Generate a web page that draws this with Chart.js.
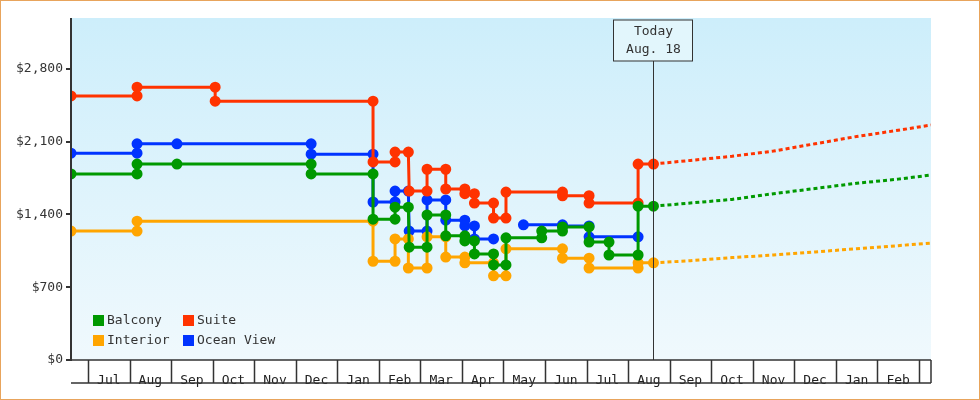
<!DOCTYPE html>
<html>
<head>
<meta charset="utf-8">
<script src="https://cdn.jsdelivr.net/npm/chart.js@4.4.0/dist/chart.umd.min.js"></script>
<style>
  html, body { margin: 0; padding: 0; background: #fff; }
  .wrap { width: 980px; height: 400px; box-sizing: border-box; border: 1px solid #e8a45c; position: relative; }
</style>
</head>
<body>
<div class="wrap"><canvas id="chart"></canvas></div>
<script>
"use strict";

///////////////////////////////////////
// Data (x = months since Jul 1, y = price in $)

const monthLabels = ["Jul", "Aug", "Sep", "Oct", "Nov", "Dec", "Jan", "Feb", "Mar", "Apr",
  "May", "Jun", "Jul", "Aug", "Sep", "Oct", "Nov", "Dec", "Jan", "Feb"];
const yTicks = [0, 700, 1400, 2100, 2800];
const todayX = 13.61;
const todayLabel = ["Today", "Aug. 18"];

const balcony = [[-0.41,1790],[1.18,1790],[1.18,1885],[2.14,1885],[5.37,1885],[5.37,1790],[6.86,1790],[6.86,1355],[7.39,1355],[7.39,1470],[7.71,1470],[7.73,1085],[8.16,1085],[8.16,1395],[8.61,1395],[8.61,1195],[9.07,1195],[9.07,1145],[9.30,1145],[9.30,1020],[9.76,1020],[9.76,915],[10.06,915],[10.06,1175],[10.92,1175],[10.92,1240],[11.42,1240],[11.42,1280],[12.06,1280],[12.06,1135],[12.54,1135],[12.54,1010],[13.24,1010],[13.24,1480],[13.61,1480]];
const suite = [[-0.41,2540],[1.18,2540],[1.18,2625],[3.06,2625],[3.06,2490],[6.86,2490],[6.86,1905],[7.39,1905],[7.39,2000],[7.71,2000],[7.73,1625],[8.16,1625],[8.16,1835],[8.61,1835],[8.61,1645],[9.07,1645],[9.07,1600],[9.30,1600],[9.30,1510],[9.76,1510],[9.76,1365],[10.06,1365],[10.06,1615],[11.42,1615],[11.42,1580],[12.06,1580],[12.06,1510],[13.24,1510],[13.24,1885],[13.61,1885]];
const interior = [[-0.41,1240],[1.18,1240],[1.18,1335],[6.86,1335],[6.86,950],[7.39,950],[7.39,1165],[7.71,1165],[7.71,885],[8.16,885],[8.16,1185],[8.61,1185],[8.61,990],[9.07,990],[9.07,935],[9.76,935],[9.76,810],[10.06,810],[10.06,1070],[11.42,1070],[11.42,980],[12.06,980],[12.06,885],[13.24,885],[13.24,935],[13.61,935]];
const oceanView = [[-0.41,1990],[1.18,1990],[1.18,2080],[2.14,2080],[5.37,2080],[5.37,1980],[6.86,1980],[6.86,1520],[7.39,1520],[7.39,1625],[7.71,1625],[7.73,1240],[8.16,1240],[8.16,1540],[8.61,1540],[8.61,1345],[9.07,1345],[9.07,1290],[9.30,1290],[9.30,1165],[9.76,1165],[9.9,null],[10.48,1300],[11.42,1300],[11.42,1290],[12.06,1290],[12.06,1185],[13.24,1185]];

const suiteForecast = [[13.61,1885],[14.5,1920],[15.5,1960],[16.5,2010],[17.5,2080],[18.5,2150],[19.5,2210],[20.29,2260]];
const balconyForecast = [[13.61,1480],[14.5,1510],[15.5,1545],[16.5,1600],[17.5,1650],[18.5,1700],[19.5,1740],[20.29,1780]];
const interiorForecast = [[13.61,935],[14.5,955],[15.5,985],[16.5,1010],[17.5,1040],[18.5,1070],[19.5,1100],[20.29,1125]];

const colors = { balcony: "#009900", suite: "#ff3300", interior: "#ffa500", ocean: "#0033ff" };
const FONT = "'DejaVu Sans Mono', monospace";

const toPts = arr => arr.map(p => ({ x: p[0], y: p[1] }));

const series = function (label, arr, color) {
  return { label, data: toPts(arr), borderColor: color, backgroundColor: color,
    borderWidth: 3, pointRadius: 4, pointHoverRadius: 4, spanGaps: false };
};
const forecast = function (arr, color) {
  return { label: "", data: toPts(arr), borderColor: color, borderWidth: 3,
    borderDash: [4, 3], pointRadius: 0, forecast: true };
};

///////////////////////////////////////
// Plugins

const decor = {
  id: "decor",
  beforeDraw(chart) {
    const { ctx, chartArea: a } = chart;
    const g = ctx.createLinearGradient(0, a.top, 0, a.bottom);
    g.addColorStop(0, "#cdeefb");
    g.addColorStop(1, "#f0f9fd");
    ctx.fillStyle = g;
    ctx.fillRect(a.left, a.top, a.right - a.left, a.bottom - a.top);
  },
  afterDraw(chart) {
    const { ctx, chartArea: a, scales } = chart;
    const x = scales.x;
    ctx.save();
    // month boxes
    ctx.strokeStyle = "#333";
    ctx.lineWidth = 1.5;
    const bottom = a.bottom + 23;
    ctx.beginPath();
    ctx.moveTo(a.left, bottom); ctx.lineTo(a.right, bottom);
    ctx.moveTo(a.left, a.bottom); ctx.lineTo(a.right, a.bottom);
    for (let m = 0; m <= monthLabels.length; m++) {
      const px = Math.round(x.getPixelForValue(m)) + 0.5;
      if (px > a.right) break;
      ctx.moveTo(px, a.bottom); ctx.lineTo(px, bottom);
    }
    ctx.moveTo(a.right, a.bottom); ctx.lineTo(a.right, bottom);
    ctx.stroke();
    // y axis line
    ctx.lineWidth = 2;
    ctx.beginPath();
    ctx.moveTo(a.left, a.top); ctx.lineTo(a.left, a.bottom + 1);
    ctx.stroke();

    // today marker
    const tx = Math.round(x.getPixelForValue(todayX)) + 0.5;
    ctx.strokeStyle = "#333";
    ctx.lineWidth = 1;
    ctx.beginPath();
    ctx.moveTo(tx, a.top + 43); ctx.lineTo(tx, a.bottom);
    ctx.stroke();
    ctx.fillStyle = "#e2f6fc";
    ctx.fillRect(tx - 40, a.top + 2, 79, 41);
    ctx.strokeRect(tx - 40, a.top + 2, 79, 41);
    ctx.fillStyle = "#333";
    ctx.font = "13px " + FONT;
    ctx.textAlign = "center";
    ctx.textBaseline = "middle";
    ctx.fillText(todayLabel[0], tx, a.top + 14);
    ctx.fillText(todayLabel[1], tx, a.top + 32);

    // legend
    const items = chart.data.datasets.filter(d => !d.forecast);
    ctx.textAlign = "left";
    items.forEach((d, i) => {
      const col = i % 2, row = Math.floor(i / 2);
      const lx = a.left + 22 + col * 90, ly = a.top + 302 + row * 20;
      ctx.fillStyle = d.borderColor;
      ctx.fillRect(lx, ly - 5, 11, 11);
      ctx.fillStyle = "#333";
      ctx.fillText(d.label, lx + 14, ly + 1);
    });
    ctx.restore();
  },
};

///////////////////////////////////////
// Chart

const config = {
  type: "line",
  data: {
    datasets: [
      series("Balcony", balcony, colors.balcony),
      series("Suite", suite, colors.suite),
      series("Interior", interior, colors.interior),
      series("Ocean View", oceanView, colors.ocean),
      forecast(suiteForecast, colors.suite),
      forecast(balconyForecast, colors.balcony),
      forecast(interiorForecast, colors.interior),
    ],
  },
  options: {
    responsive: true,
    maintainAspectRatio: false,
    animation: false,
    layout: { padding: { top: 17, right: 48, left: 0, bottom: 0 } },
    plugins: { legend: { display: false }, tooltip: { enabled: false } },
    scales: {
      x: {
        type: "linear",
        min: -0.41,
        max: 20.29,
        afterBuildTicks(s) { s.ticks = monthLabels.map((l, i) => ({ value: i + 0.5 })); },
        afterFit(s) { s.height = 39; },
        grid: { display: false },
        border: { display: false },
        ticks: {
          autoSkip: false, maxRotation: 0, padding: 5,
          color: "#222", font: { family: FONT, size: 13 },
          callback: (v) => monthLabels[Math.floor(v)],
        },
      },
      y: {
        min: 0,
        max: 3290,
        afterBuildTicks(s) { s.ticks = yTicks.map(v => ({ value: v })); },
        afterFit(s) { s.width = 70; },
        grid: { drawOnChartArea: false, tickLength: 5, color: "#333", lineWidth: 2 },
        border: { display: false },
        ticks: {
          color: "#333", padding: 3, font: { family: FONT, size: 13 },
          callback: (v) => "$" + v.toLocaleString("en-US"),
        },
      },
    },
  },
  plugins: [decor],
};

const chartEl = document.getElementById("chart");
const chart = new Chart(chartEl, config);
</script>
</body>
</html>
